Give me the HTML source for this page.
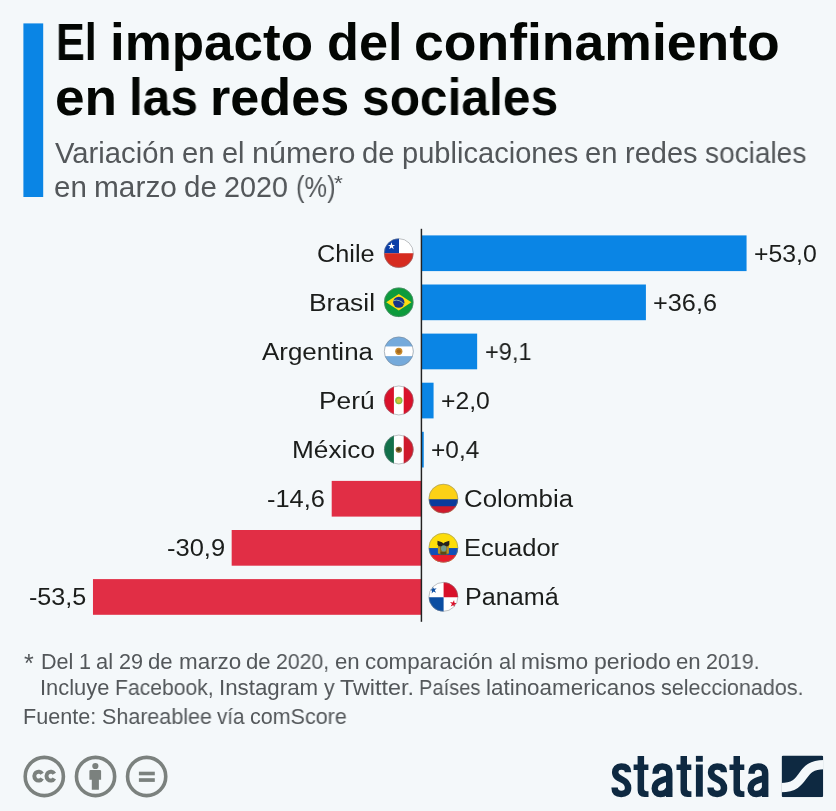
<!DOCTYPE html>
<html lang="es"><head><meta charset="utf-8"><title>El impacto del confinamiento en las redes sociales</title>
<style>
html,body{margin:0;padding:0;}
body{width:836px;height:811px;background:#f4f8fa;position:relative;overflow:hidden;font-family:"Liberation Sans",sans-serif;}
.t{position:absolute;white-space:pre;line-height:1;transform-origin:0 0;will-change:transform;}
.b{position:absolute;}
.abs{position:absolute;}
</style></head><body>
<svg class="abs" style="left:0;top:0" width="836" height="811" viewBox="0 0 836 811">
<rect x="23.4" y="23.4" width="19.8" height="173.6" fill="#0a85e5"/>
<rect x="421.30" y="235.40" width="325.26" height="35.7" fill="#0a85e5"/>
<rect x="421.30" y="284.50" width="224.61" height="35.7" fill="#0a85e5"/>
<rect x="421.30" y="333.60" width="55.85" height="35.7" fill="#0a85e5"/>
<rect x="421.30" y="382.70" width="12.27" height="35.7" fill="#0a85e5"/>
<rect x="421.30" y="431.80" width="2.45" height="35.7" fill="#0a85e5"/>
<rect x="331.70" y="480.90" width="89.60" height="35.7" fill="#e12e45"/>
<rect x="231.67" y="530.00" width="189.63" height="35.7" fill="#e12e45"/>
<rect x="92.97" y="579.10" width="328.33" height="35.7" fill="#e12e45"/>
<rect x="420.7" y="228.8" width="1.45" height="393" fill="#222"/>
<g transform="translate(398.80,253.15)"><clipPath id="c0"><circle cx="0" cy="0" r="14.7"/></clipPath><g clip-path="url(#c0)"><rect x="-15" y="-15" width="30" height="15" fill="#fff"/><rect x="-15" y="-15" width="15.2" height="15.2" fill="#0a3fa8"/><rect x="-15" y="0.1" width="30" height="15" fill="#d62b1f"/><polygon points="-7.30,-10.80 -6.45,-8.17 -3.69,-8.17 -5.92,-6.55 -5.07,-3.93 -7.30,-5.55 -9.53,-3.93 -8.68,-6.55 -10.91,-8.17 -8.15,-8.17" fill="#fff"/></g><circle cx="0" cy="0" r="14.5" fill="none" stroke="#80868c" stroke-opacity="0.75" stroke-width="0.7"/></g>
<g transform="translate(398.80,302.25)"><clipPath id="c1"><circle cx="0" cy="0" r="14.7"/></clipPath><g clip-path="url(#c1)"><rect x="-15" y="-15" width="30" height="30" fill="#0c9b3c"/><polygon points="-12.6,0 0,-8.3 12.6,0 0,8.3" fill="#fddc11"/><circle cx="0" cy="0" r="5.6" fill="#17358a"/><path d="M-5.4,-1.6 A9,9 0 0 1 5.2,2.2" stroke="#a6cfa2" stroke-width="0.8" fill="none"/></g><circle cx="0" cy="0" r="14.5" fill="none" stroke="#80868c" stroke-opacity="0.75" stroke-width="0.7"/></g>
<g transform="translate(398.80,351.35)"><clipPath id="c2"><circle cx="0" cy="0" r="14.7"/></clipPath><g clip-path="url(#c2)"><rect x="-15" y="-15" width="30" height="30" fill="#75aadb"/><rect x="-15" y="-4.9" width="30" height="9.7" fill="#fff"/><circle cx="0" cy="0" r="3.6" fill="#c88a2a"/><circle cx="0" cy="0" r="2.1" fill="#a8691c"/></g><circle cx="0" cy="0" r="14.5" fill="none" stroke="#80868c" stroke-opacity="0.75" stroke-width="0.7"/></g>
<g transform="translate(398.80,400.45)"><clipPath id="c3"><circle cx="0" cy="0" r="14.7"/></clipPath><g clip-path="url(#c3)"><rect x="-15" y="-15" width="30" height="30" fill="#fff"/><rect x="-15" y="-15" width="10.1" height="30" fill="#d9112a"/><rect x="4.9" y="-15" width="10.3" height="30" fill="#d9112a"/><circle cx="0" cy="0" r="3.7" fill="#8cbf3f"/><circle cx="0" cy="0.2" r="2.2" fill="#d6c23a"/></g><circle cx="0" cy="0" r="14.5" fill="none" stroke="#80868c" stroke-opacity="0.75" stroke-width="0.7"/></g>
<g transform="translate(398.80,449.55)"><clipPath id="c4"><circle cx="0" cy="0" r="14.7"/></clipPath><g clip-path="url(#c4)"><rect x="-15" y="-15" width="30" height="30" fill="#fff"/><rect x="-15" y="-15" width="10.1" height="30" fill="#12704a"/><rect x="4.9" y="-15" width="10.3" height="30" fill="#cf1a2b"/><ellipse cx="0" cy="0.3" rx="3.2" ry="3" fill="#8a6a2c"/><circle cx="-0.3" cy="-0.2" r="1.6" fill="#4a3a1c"/></g><circle cx="0" cy="0" r="14.5" fill="none" stroke="#80868c" stroke-opacity="0.75" stroke-width="0.7"/></g>
<g transform="translate(443.40,498.65)"><clipPath id="c5"><circle cx="0" cy="0" r="14.7"/></clipPath><g clip-path="url(#c5)"><rect x="-15" y="-15" width="30" height="30" fill="#fcd116"/><rect x="-15" y="0.6" width="30" height="8" fill="#0b3b9c"/><rect x="-15" y="7.6" width="30" height="8" fill="#cf1a2b"/></g><circle cx="0" cy="0" r="14.5" fill="none" stroke="#80868c" stroke-opacity="0.75" stroke-width="0.7"/></g>
<g transform="translate(443.40,547.75)"><clipPath id="c6"><circle cx="0" cy="0" r="14.7"/></clipPath><g clip-path="url(#c6)"><rect x="-15" y="-15" width="30" height="30" fill="#fddd0a"/><rect x="-15" y="0.3" width="30" height="8" fill="#104fb8"/><rect x="-15" y="7.3" width="30" height="8" fill="#ea1c2a"/><rect x="-4.9" y="-3.6" width="9.8" height="10.4" rx="1.6" fill="#7d6a22"/><rect x="-5.5" y="-3.8" width="2.2" height="9.6" fill="#b89422"/><rect x="3.3" y="-3.8" width="2.2" height="9.6" fill="#b89422"/><path d="M-5.9,-7 L-1.4,-5.6 L0,-4.2 L1.4,-5.6 L5.9,-7 L6,-3.2 L4.6,-1.4 L-4.6,-1.4 L-6,-3.2 Z" fill="#26231a"/><ellipse cx="0.3" cy="0.7" rx="2.7" ry="3.1" fill="#6f9b8e"/><rect x="-2.8" y="4.2" width="5.6" height="2.6" fill="#5b4a15"/></g><circle cx="0" cy="0" r="14.5" fill="none" stroke="#80868c" stroke-opacity="0.75" stroke-width="0.7"/></g>
<g transform="translate(443.40,596.85)"><clipPath id="c7"><circle cx="0" cy="0" r="14.7"/></clipPath><g clip-path="url(#c7)"><rect x="-15" y="-15" width="30" height="30" fill="#fff"/><rect x="0.2" y="-15" width="15" height="15.4" fill="#d9112a"/><rect x="-15" y="0.4" width="15.2" height="15" fill="#0b4ea2"/><polygon points="-10.76,-10.44 -9.46,-8.00 -6.74,-8.48 -8.66,-6.50 -7.37,-4.06 -9.85,-5.27 -11.77,-3.28 -11.38,-6.02 -13.86,-7.23 -11.14,-7.71" fill="#0b4ea2"/><polygon points="10.66,3.16 11.04,5.89 13.76,6.37 11.28,7.58 11.67,10.32 9.75,8.33 7.27,9.54 8.56,7.10 6.64,5.12 9.36,5.60" fill="#d9112a"/></g><circle cx="0" cy="0" r="14.5" fill="none" stroke="#80868c" stroke-opacity="0.75" stroke-width="0.7"/></g>
<g><circle cx="44.3" cy="776.5" r="19.1" fill="none" stroke="#7b817e" stroke-width="3.6"/><circle cx="95.55" cy="776.5" r="19.1" fill="none" stroke="#7b817e" stroke-width="3.6"/><circle cx="146.65" cy="776.5" r="19.1" fill="none" stroke="#7b817e" stroke-width="3.6"/><path d="M42.10,773.81 A4.2,4.45 0 1 0 42.10,778.39" fill="none" stroke="#7b817e" stroke-width="4.0"/><path d="M54.30,773.81 A4.2,4.45 0 1 0 54.30,778.39" fill="none" stroke="#7b817e" stroke-width="4.0"/><circle cx="95.35" cy="766" r="3.1" fill="#7b817e"/><path d="M89.4,771.1 Q89.4,769.9 90.6,769.9 L99.9,769.9 Q101.1,769.9 101.1,771.1 L101.1,779.8 L98.9,779.8 L98.9,789.7 L91.8,789.7 L91.8,779.8 L89.4,779.8 Z" fill="#7b817e"/><rect x="138.9" y="771.7" width="15.9" height="3.6" fill="#7b817e"/><rect x="138.9" y="778.2" width="15.9" height="3.7" fill="#7b817e"/></g>
<g transform="translate(781.6,755.5)"><clipPath id="sq"><rect x="0" y="0" width="41.65" height="41.65" rx="1.6"/></clipPath><g clip-path="url(#sq)"><rect width="41.65" height="41.65" fill="#0e2941"/><path d="M-1,32.1 C 26.5,32.1 15.5,9.1 43,9.1" fill="none" stroke="#f4f8fa" stroke-width="9.3"/></g></g>
<g><path transform="translate(0,0)" d="M628,772.3 C628,768.2 625.6,766.6 621.2,766.6 C617,766.6 615.2,768.9 615.2,772.3 C615.2,776.6 618.6,778 622,779.6 C626,781.5 628.1,783.6 628.1,788 C628.1,792.2 625.4,794 621.3,794 C616.8,794 614.6,791.8 614.6,787.6" fill="none" stroke="#0e2941" stroke-width="6.5"/><g transform="translate(0,0)" fill="#0e2941"><path d="M637.6,755.9 L644.1,755.9 L644.1,788.6 Q644.1,791.3 646.9,791.3 L648.5,791.3 L648.5,796.9 L644.6,796.9 Q637.6,796.9 637.6,790 Z"/><rect x="633.6" y="764.5" width="14.8" height="5.5"/></g><g transform="translate(0,0)" fill="none" stroke="#0e2941"><path d="M655.6,773.7 C655.6,768.8 658,766.6 662.2,766.6 C666.8,766.6 669.25,768.8 669.25,773.4 L669.25,796.9" stroke-width="6.5"/><path d="M669.5,778 C660.5,780.3 654.7,782.3 654.7,788.4 C654.7,792.2 657,794 660.6,794 C664.6,794 667.6,791.6 669.5,787.6" stroke-width="6.3"/></g><g transform="translate(42.9,0)" fill="#0e2941"><path d="M637.6,755.9 L644.1,755.9 L644.1,788.6 Q644.1,791.3 646.9,791.3 L648.5,791.3 L648.5,796.9 L644.6,796.9 Q637.6,796.9 637.6,790 Z"/><rect x="633.6" y="764.5" width="14.8" height="5.5"/></g><rect x="695.9" y="755.9" width="6.9" height="5.8" fill="#0e2941"/><rect x="695.9" y="764.5" width="6.9" height="32.2" fill="#0e2941"/><path transform="translate(95.9,0)" d="M628,772.3 C628,768.2 625.6,766.6 621.2,766.6 C617,766.6 615.2,768.9 615.2,772.3 C615.2,776.6 618.6,778 622,779.6 C626,781.5 628.1,783.6 628.1,788 C628.1,792.2 625.4,794 621.3,794 C616.8,794 614.6,791.8 614.6,787.6" fill="none" stroke="#0e2941" stroke-width="6.5"/><g transform="translate(95.9,0)" fill="#0e2941"><path d="M637.6,755.9 L644.1,755.9 L644.1,788.6 Q644.1,791.3 646.9,791.3 L648.5,791.3 L648.5,796.9 L644.6,796.9 Q637.6,796.9 637.6,790 Z"/><rect x="633.6" y="764.5" width="14.8" height="5.5"/></g><g transform="translate(95.9,0)" fill="none" stroke="#0e2941"><path d="M655.6,773.7 C655.6,768.8 658,766.6 662.2,766.6 C666.8,766.6 669.25,768.8 669.25,773.4 L669.25,796.9" stroke-width="6.5"/><path d="M669.5,778 C660.5,780.3 654.7,782.3 654.7,788.4 C654.7,792.2 657,794 660.6,794 C664.6,794 667.6,791.6 669.5,787.6" stroke-width="6.3"/></g></g>
</svg>
<div class="t" style="left:334.02px;top:172.00px;font-size:21px;font-weight:400;color:#53575a;transform:scaleX(1.0860)">*</div>
<div class="t" style="left:316.87px;top:242.00px;font-size:24.7px;font-weight:400;color:#1b1d1b;transform:scaleX(1.0241)">Chile</div>
<div class="t" style="left:309.12px;top:291.00px;font-size:24.7px;font-weight:400;color:#1b1d1b;transform:scaleX(1.0697)">Brasil</div>
<div class="t" style="left:261.92px;top:340.00px;font-size:24.7px;font-weight:400;color:#1b1d1b;transform:scaleX(1.0500)">Argentina</div>
<div class="t" style="left:318.83px;top:389.00px;font-size:24.7px;font-weight:400;color:#1b1d1b;transform:scaleX(1.0664)">Perú</div>
<div class="t" style="left:291.64px;top:438.00px;font-size:24.7px;font-weight:400;color:#1b1d1b;transform:scaleX(1.0611)">México</div>
<div class="t" style="left:464.14px;top:487.00px;font-size:24.7px;font-weight:400;color:#1b1d1b;transform:scaleX(1.0459)">Colombia</div>
<div class="t" style="left:464.09px;top:536.00px;font-size:24.7px;font-weight:400;color:#1b1d1b;transform:scaleX(1.0345)">Ecuador</div>
<div class="t" style="left:464.52px;top:585.00px;font-size:24.7px;font-weight:400;color:#1b1d1b;transform:scaleX(1.0187)">Panamá</div>
<div class="t" style="left:754.36px;top:242.00px;font-size:24.5px;font-weight:400;color:#1b1d1b;transform:scaleX(1.0127)">+53,0</div>
<div class="t" style="left:652.74px;top:291.00px;font-size:24.5px;font-weight:400;color:#1b1d1b;transform:scaleX(1.0320)">+36,6</div>
<div class="t" style="left:484.62px;top:340.00px;font-size:24.5px;font-weight:400;color:#1b1d1b;transform:scaleX(0.9619)">+9,1</div>
<div class="t" style="left:440.76px;top:389.00px;font-size:24.5px;font-weight:400;color:#1b1d1b;transform:scaleX(1.0095)">+2,0</div>
<div class="t" style="left:431.08px;top:438.00px;font-size:24.5px;font-weight:400;color:#1b1d1b;transform:scaleX(0.9975)">+0,4</div>
<div class="t" style="left:266.54px;top:487.00px;font-size:24.5px;font-weight:400;color:#1b1d1b;transform:scaleX(1.0372)">-14,6</div>
<div class="t" style="left:166.74px;top:536.00px;font-size:24.5px;font-weight:400;color:#1b1d1b;transform:scaleX(1.0402)">-30,9</div>
<div class="t" style="left:28.86px;top:585.00px;font-size:24.5px;font-weight:400;color:#1b1d1b;transform:scaleX(1.0250)">-53,5</div>
<div class="t" style="left:24.15px;top:651.00px;font-size:25px;font-weight:400;color:#53575a;transform:scaleX(0.9935)">*</div>
<div class="t" style="left:56.21px;top:17.00px;font-size:51.5px;font-weight:700;color:#030603;transform:scaleX(0.8374)">El</div>
<div class="t" style="left:109.70px;top:17.00px;font-size:51.5px;font-weight:700;color:#030603;transform:scaleX(1.0280)">impacto</div>
<div class="t" style="left:326.63px;top:17.00px;font-size:51.5px;font-weight:700;color:#030603;transform:scaleX(1.0146)">del</div>
<div class="t" style="left:414.17px;top:17.00px;font-size:51.5px;font-weight:700;color:#030603;transform:scaleX(1.0392)">confinamiento</div>
<div class="t" style="left:54.58px;top:72.00px;font-size:51.5px;font-weight:700;color:#030603;transform:scaleX(1.0319)">en</div>
<div class="t" style="left:129.03px;top:72.00px;font-size:51.5px;font-weight:700;color:#030603;transform:scaleX(0.9624)">las</div>
<div class="t" style="left:210.42px;top:72.00px;font-size:51.5px;font-weight:700;color:#030603;transform:scaleX(1.0128)">redes</div>
<div class="t" style="left:361.70px;top:72.00px;font-size:51.5px;font-weight:700;color:#030603;transform:scaleX(0.9645)">sociales</div>
<div class="t" style="left:55.36px;top:139.00px;font-size:28.8px;font-weight:400;color:#53575a;transform:scaleX(1.0150)">Variación</div>
<div class="t" style="left:182.25px;top:139.00px;font-size:28.8px;font-weight:400;color:#53575a;transform:scaleX(1.0161)">en</div>
<div class="t" style="left:222.00px;top:139.00px;font-size:28.8px;font-weight:400;color:#53575a;transform:scaleX(1.0057)">el</div>
<div class="t" style="left:251.74px;top:139.00px;font-size:28.8px;font-weight:400;color:#53575a;transform:scaleX(1.0586)">número</div>
<div class="t" style="left:362.30px;top:139.00px;font-size:28.8px;font-weight:400;color:#53575a;transform:scaleX(1.0153)">de</div>
<div class="t" style="left:402.02px;top:139.00px;font-size:28.8px;font-weight:400;color:#53575a;transform:scaleX(1.0101)">publicaciones</div>
<div class="t" style="left:585.49px;top:139.00px;font-size:28.8px;font-weight:400;color:#53575a;transform:scaleX(1.0161)">en</div>
<div class="t" style="left:625.23px;top:139.00px;font-size:28.8px;font-weight:400;color:#53575a;transform:scaleX(1.0075)">redes</div>
<div class="t" style="left:705.02px;top:139.00px;font-size:28.8px;font-weight:400;color:#53575a;transform:scaleX(0.9738)">sociales</div>
<div class="t" style="left:54.04px;top:173.00px;font-size:28.8px;font-weight:400;color:#53575a;transform:scaleX(1.0254)">en</div>
<div class="t" style="left:94.15px;top:173.00px;font-size:28.8px;font-weight:400;color:#53575a;transform:scaleX(1.0365)">marzo</div>
<div class="t" style="left:184.35px;top:173.00px;font-size:28.8px;font-weight:400;color:#53575a;transform:scaleX(1.0246)">de</div>
<div class="t" style="left:224.43px;top:173.00px;font-size:28.8px;font-weight:400;color:#53575a;transform:scaleX(0.9982)">2020</div>
<div class="t" style="left:295.64px;top:173.00px;font-size:28.8px;font-weight:400;color:#53575a;transform:scaleX(0.8844)">(%)</div>
<div class="t" style="left:41.13px;top:651.00px;font-size:21.6px;font-weight:400;color:#53575a;transform:scaleX(1.0001)">Del</div>
<div class="t" style="left:79.00px;top:651.00px;font-size:21.6px;font-weight:400;color:#53575a;transform:scaleX(0.9996)">1</div>
<div class="t" style="left:96.46px;top:651.00px;font-size:21.6px;font-weight:400;color:#53575a;transform:scaleX(1.0109)">al</div>
<div class="t" style="left:118.92px;top:651.00px;font-size:21.6px;font-weight:400;color:#53575a;transform:scaleX(0.9996)">29</div>
<div class="t" style="left:148.39px;top:651.00px;font-size:21.6px;font-weight:400;color:#53575a;transform:scaleX(1.0260)">de</div>
<div class="t" style="left:178.51px;top:651.00px;font-size:21.6px;font-weight:400;color:#53575a;transform:scaleX(1.0385)">marzo</div>
<div class="t" style="left:246.27px;top:651.00px;font-size:21.6px;font-weight:400;color:#53575a;transform:scaleX(1.0260)">de</div>
<div class="t" style="left:276.38px;top:651.00px;font-size:21.6px;font-weight:400;color:#53575a;transform:scaleX(0.9842)">2020,</div>
<div class="t" style="left:335.03px;top:651.00px;font-size:21.6px;font-weight:400;color:#53575a;transform:scaleX(1.0269)">en</div>
<div class="t" style="left:365.16px;top:651.00px;font-size:21.6px;font-weight:400;color:#53575a;transform:scaleX(1.0347)">comparación</div>
<div class="t" style="left:498.55px;top:651.00px;font-size:21.6px;font-weight:400;color:#53575a;transform:scaleX(1.0109)">al</div>
<div class="t" style="left:521.00px;top:651.00px;font-size:21.6px;font-weight:400;color:#53575a;transform:scaleX(1.0551)">mismo</div>
<div class="t" style="left:593.56px;top:651.00px;font-size:21.6px;font-weight:400;color:#53575a;transform:scaleX(1.0658)">periodo</div>
<div class="t" style="left:675.81px;top:651.00px;font-size:21.6px;font-weight:400;color:#53575a;transform:scaleX(1.0269)">en</div>
<div class="t" style="left:705.94px;top:651.00px;font-size:21.6px;font-weight:400;color:#53575a;transform:scaleX(0.9923)">2019.</div>
<div class="t" style="left:40.13px;top:677.00px;font-size:21.6px;font-weight:400;color:#53575a;transform:scaleX(1.0129)">Incluye</div>
<div class="t" style="left:114.89px;top:677.00px;font-size:21.6px;font-weight:400;color:#53575a;transform:scaleX(0.9787)">Facebook,</div>
<div class="t" style="left:219.04px;top:677.00px;font-size:21.6px;font-weight:400;color:#53575a;transform:scaleX(1.0325)">Instagram</div>
<div class="t" style="left:323.64px;top:677.00px;font-size:21.6px;font-weight:400;color:#53575a;transform:scaleX(0.9801)">y</div>
<div class="t" style="left:339.67px;top:677.00px;font-size:21.6px;font-weight:400;color:#53575a;transform:scaleX(1.0822)">Twitter.</div>
<div class="t" style="left:419.16px;top:677.00px;font-size:21.6px;font-weight:400;color:#53575a;transform:scaleX(0.9296)">Países</div>
<div class="t" style="left:485.98px;top:677.00px;font-size:21.6px;font-weight:400;color:#53575a;transform:scaleX(1.0378)">latinoamericanos</div>
<div class="t" style="left:660.86px;top:677.00px;font-size:21.6px;font-weight:400;color:#53575a;transform:scaleX(0.9982)">seleccionados.</div>
<div class="t" style="left:23.13px;top:706.00px;font-size:21.6px;font-weight:400;color:#53575a;transform:scaleX(0.9991)">Fuente:</div>
<div class="t" style="left:101.75px;top:706.00px;font-size:21.6px;font-weight:400;color:#53575a;transform:scaleX(0.9944)">Shareablee</div>
<div class="t" style="left:217.05px;top:706.00px;font-size:21.6px;font-weight:400;color:#53575a;transform:scaleX(0.9546)">vía</div>
<div class="t" style="left:250.01px;top:706.00px;font-size:21.6px;font-weight:400;color:#53575a;transform:scaleX(0.9952)">comScore</div>
</body></html>
